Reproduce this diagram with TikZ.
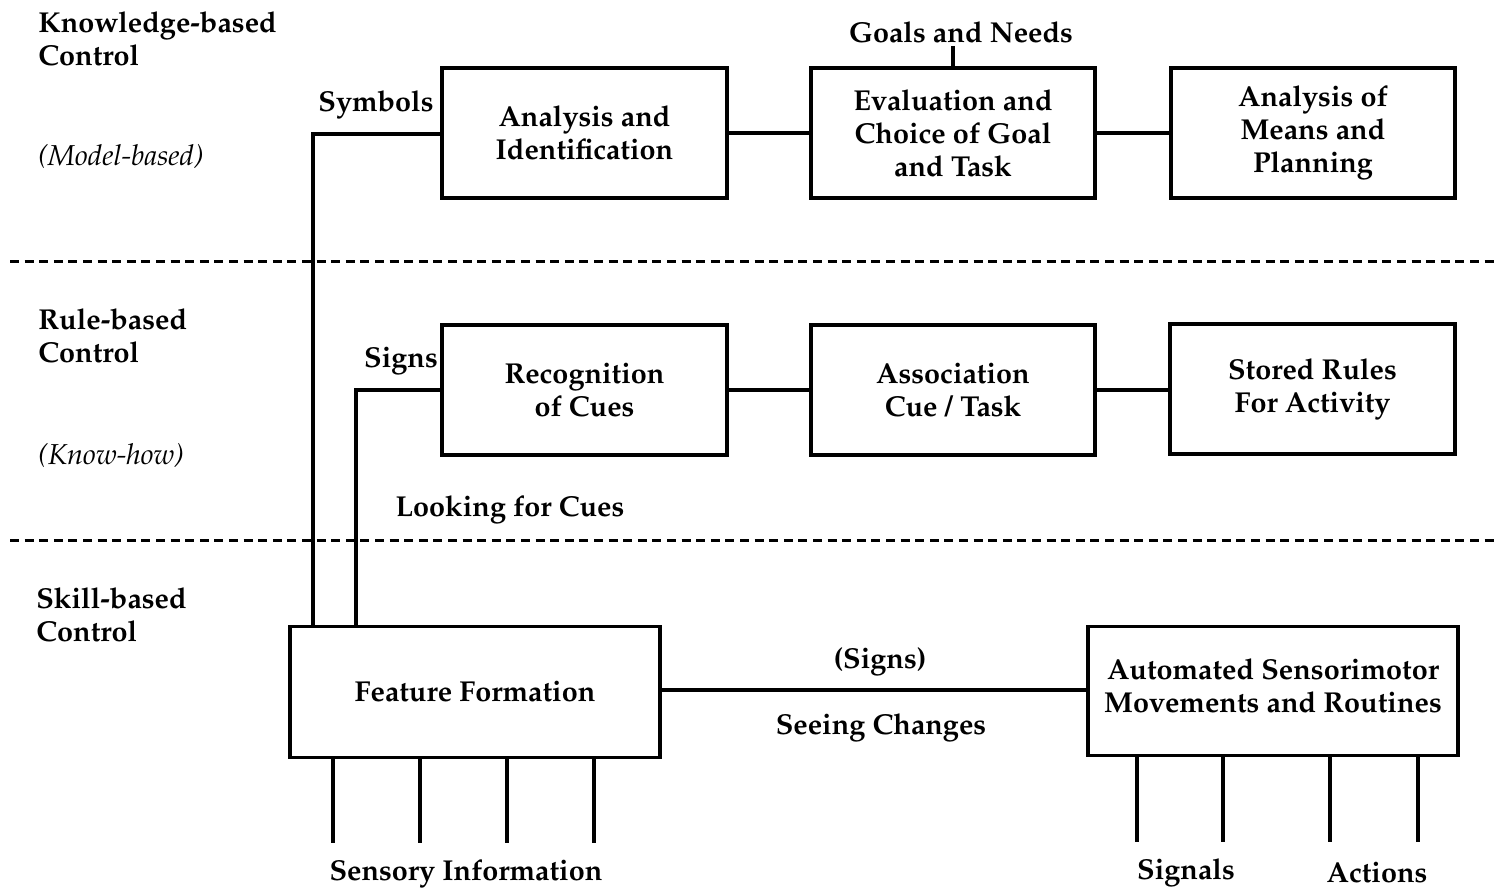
\documentclass[tikz,border=0pt]{standalone}
\usepackage[T1]{fontenc}
\usepackage{mathpazo}
\begin{document}
\begin{tikzpicture}[x=0.5pt,y=-0.5pt,
  font=\fontsize{14.4}{16.5}\selectfont\bfseries,
  box/.style={draw,line width=1.8pt,align=center,inner sep=0pt},
  link/.style={line width=1.6pt},
  level/.style={line width=1.5pt,dash pattern=on 4.5pt off 2.8pt},
  lbl/.style={inner sep=0pt,align=left},
  slant/.style={lbl,font=\fontsize{14.4}{16.5}\selectfont\itshape},
  tag/.style={inner sep=0pt}]
\useasboundingbox (0,0) rectangle (1495,892);

% layer separators
\draw[level] (10,262) -- (1495,262);
\draw[level] (10,541) -- (1495,541);

% layer captions
\node[lbl,anchor=north west] (kb) at (38,11) {Knowledge-based\\Control};
\node[slant,anchor=west] (mb) at (38,157) {(Model-based)};
\node[lbl,anchor=north west] (rb) at (38,308) {Rule-based\\Control};
\node[slant,anchor=west] (kh) at (38,456) {(Know-how)};
\node[lbl,anchor=north west] (sb) at (36,587) {Skill-based\\Control};

% boxes
\node[box,minimum width=142.5pt,minimum height=65pt] (aid) at (584.5,133) {Analysis and\\Identification};
\node[box,minimum width=142pt,minimum height=65pt] (eval) at (953,133) {Evaluation and\\Choice of Goal\\and Task};
\node[box,minimum width=142pt,minimum height=65pt] (plan) at (1313,133) {Analysis of\\Means and\\Planning};
\node[box,minimum width=142.5pt,minimum height=65pt] (rec) at (584.5,390) {Recognition\\of Cues};
\node[box,minimum width=142pt,minimum height=65pt] (assoc) at (953,390) {Association\\Cue / Task};
\node[box,minimum width=142.5pt,minimum height=65pt] (rules) at (1312.5,389) {Stored Rules\\For Activity};
\node[box,minimum width=185pt,minimum height=65.5pt] (feat) at (475,692) {Feature Formation};
\node[box,minimum width=185pt,minimum height=64.5pt] (auto) at (1273,691) {Automated Sensorimotor\\Movements and Routines\\[-11pt]\mbox{}};

% free labels
\node[tag] (goals) at (961,32) {Goals and Needs};
\node[tag] (sym) at (376,105) {Symbols};
\node[tag] (signs) at (401,361) {Signs};
\node[tag] (look) at (510,510) {Looking for Cues};
\node[tag] (psigns) at (880,662) {(Signs)};
\node[tag] (seeing) at (881,728) {Seeing Changes};
\node[tag] (sens) at (466,874) {Sensory Information};
\node[tag] (sig) at (1186,873) {Signals};
\node[tag] (act) at (1377,873) {Actions};

% connectors between boxes
\draw[link] (aid.east) -- (eval.west);
\draw[link] (eval.east) -- (plan.west);
\draw[link] (rec.east) -- (assoc.west);
\draw[link] (assoc.east) -- (rules.west |- assoc.east);
\draw[link] (feat.east |- 0,690) -- (auto.west |- 0,690);
\coordinate (gtop) at (953,46);
\draw[link] (gtop) -- (eval.north -| gtop);

% upward paths from feature formation
\draw[link] (feat.north -| 313,0) -- (313,134) -- (aid.west |- 0,134);
\draw[link] (feat.north -| 356,0) -- (356,390) -- (rec.west);

% sensory inputs
\foreach \x/\n in {333/1,420/2,507/3,594/4}{
  \coordinate (s\n) at (\x,843);
  \draw[link] (feat.south -| s\n) -- (s\n);
}
% signal and action outputs
\foreach \x/\n in {1137/1,1223/2,1330/3,1418/4}{
  \coordinate (o\n) at (\x,842);
  \draw[link] (auto.south -| o\n) -- (o\n);
}
\end{tikzpicture}
\end{document}
